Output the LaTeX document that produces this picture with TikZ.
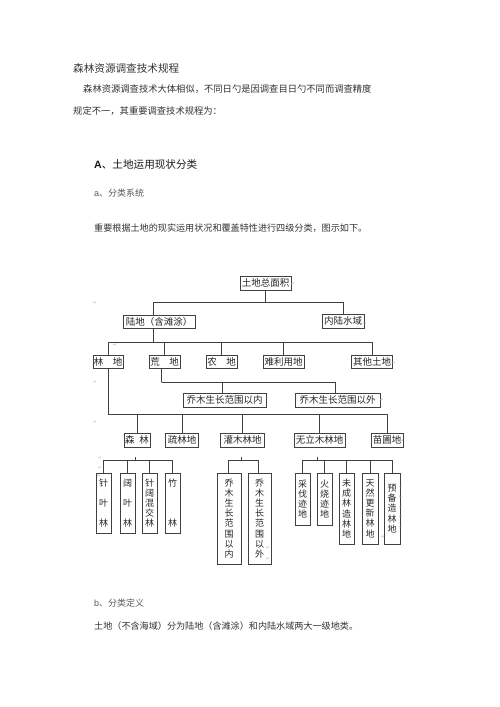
\documentclass[tikz,border=0pt]{standalone}
\usepackage{fontspec}
\setmainfont{Noto Sans CJK SC}
\newfontfamily\latinfont{Liberation Sans}
\newfontfamily\markfont{DejaVu Sans}
\usepackage{tikz}

\begin{document}
\begin{tikzpicture}[
    x=1pt, y=-1pt,
    % Define styles for consistency
    body_text/.style={anchor=west, inner sep=0pt, text=black!80, font=\fontsize{9.3}{11}\selectfont},
    class_box/.style={draw=black!75, line width=0.8pt, inner sep=0pt, minimum height=14pt, text=black!85, font=\fontsize{9.5}{11}\selectfont},
    vert_box/.style={class_box, minimum width=15pt, align=center, font=\fontsize{9}{10.2}\selectfont},
    tree_line/.style={draw=black!75, line width=0.8pt},
    para_mark/.style={inner sep=0pt, text=gray!60, font=\markfont\fontsize{4.5}{5}\selectfont}
]

    % page
    \fill[white] (0,0) rectangle (500,707);
    \useasboundingbox (0,0) rectangle (500,707);

    % ---------------------------------------------------------
    % 1. Text above the chart
    % ---------------------------------------------------------
    \node[body_text, font=\fontsize{10.6}{12}\selectfont] (title) at (73,68) {森林资源调查技术规程};
    \node[body_text] (par1) at (83,89) {森林资源调查技术大体相似，不同日勺是因调查目日勺不同而调查精度};
    \node[body_text] (par2) at (73,111) {规定不一，其重要调查技术规程为：};
    \node[body_text, text=black!90, font=\fontsize{10.6}{12}\selectfont] (headA) at (94,164) {{\latinfont\bfseries A}、土地运用现状分类};
    \node[body_text, text=black!65, font=\fontsize{9}{11}\selectfont] (heada) at (94,193) {{\latinfont a}、分类系统};
    \node[body_text, font=\fontsize{9.1}{11}\selectfont] (intro) at (94,228) {重要根据土地的现实运用状况和覆盖特性进行四级分类，图示如下。};

    % ---------------------------------------------------------
    % 2. The classification chart
    % ---------------------------------------------------------
    % --- levels 0 and 1 ---
    \node[class_box, minimum width=51pt] (root) at (265.5,283) {土地总面积};
    \node[class_box, minimum width=72pt, minimum height=13pt] (lu) at (159,321.5) {陆地（含滩涂）};
    \node[class_box, minimum width=42pt] (nl) at (343,321) {内陆水域};

    % --- level 2 ---
    \node[class_box, minimum width=30pt, minimum height=13pt] (ld) at (108,361.5) {林\hspace{1em}地};
    \node[class_box, minimum width=31pt, minimum height=13pt] (hd) at (164.5,361.5) {荒\hspace{1em}地};
    \node[class_box, minimum width=31pt, minimum height=13pt] (nd) at (221.5,361.5) {农\hspace{1em}地};
    \node[class_box, minimum width=41pt, minimum height=13pt] (nly) at (283.5,361.5) {难利用地};
    \node[class_box, minimum width=41pt, minimum height=13pt] (qt) at (372,361.5) {其他土地};

    \node[class_box, minimum width=83pt] (qn) at (224.5,400) {乔木生长范围以内};
    \node[class_box, minimum width=85pt] (qw) at (337.5,400) {乔木生长范围以外};

    % --- level 3 ---
    \node[class_box, minimum width=26pt] (sl) at (137,440) {森\hspace{0.5em}林};
    \node[class_box, minimum width=33pt] (sul) at (182,440) {疏林地};
    \node[class_box, minimum width=44pt] (gm) at (242.5,440) {灌木林地};
    \node[class_box, minimum width=51pt] (wl) at (319.5,440) {无立木林地};
    \node[class_box, minimum width=32pt] (mp) at (387,440) {苗圃地};

    % --- level 4 ---
    \node[vert_box, minimum height=60pt] (zy) at (103.5,503) {针\\[9.8pt]叶\\[9.8pt]林};
    \node[vert_box, minimum height=60pt] (ky) at (127.5,503) {阔\\[9.8pt]叶\\[9.8pt]林};
    \node[vert_box, minimum height=60pt] (zk) at (149.5,503) {针\\阔\\混\\交\\林};
    \node[vert_box, minimum height=60pt] (zl) at (172.5,503) {竹\\[30pt]林};

    \node[vert_box, minimum width=24pt, minimum height=91pt] (gn) at (229,518.5) {乔\\木\\生\\长\\范\\围\\以\\内};
    \node[vert_box, minimum width=23pt, minimum height=91pt] (gw) at (259.5,518.5) {乔\\木\\生\\长\\范\\围\\以\\外};

    \node[vert_box, minimum height=52pt] (cf) at (302.5,499) {采\\伐\\迹\\地};
    \node[vert_box, minimum height=52pt] (hs) at (324.5,499) {火\\烧\\迹\\地};
    \node[vert_box, minimum height=71pt] (wc) at (346.5,508.5) {未\\成\\林\\造\\林\\地};
    \node[vert_box, minimum width=16pt, minimum height=71pt] (tr) at (370,508.5) {天\\然\\更\\新\\林\\地};
    \node[vert_box, minimum width=16pt, minimum height=71pt] (yb) at (392,508.5) {预\\备\\造\\林\\地};

    % --- connectors ---
    \draw[tree_line] (root.south) -- ([yshift=-12pt]root.south) coordinate (j0);
    \draw[tree_line] ([xshift=-6pt]lu.north) |- (j0) -| (nl.north);

    \draw[tree_line] ([xshift=-6pt]lu.south) -- ([yshift=-14pt, xshift=-6pt]lu.south) coordinate (j1);
    \draw[tree_line] (ld.north) |- (j1) -| (qt.north);
    \foreach \n in {hd, nd, nly} {
        \draw[tree_line] (\n.north) -- (\n.north |- j1);
    }

    \draw[tree_line] ([xshift=-3pt]hd.south) -- ([yshift=-14pt, xshift=-3pt]hd.south) coordinate (j2);
    \draw[tree_line] ([xshift=-2pt]qn.north) |- (j2) -| ([xshift=-2pt]qw.north);

    \draw[tree_line] (ld.south) -- ([yshift=-46pt]ld.south) coordinate (j3);
    \draw[tree_line] (j3) -| (mp.north);
    \foreach \n in {sl, sul, gm, wl} {
        \draw[tree_line] (\n.north) -- (\n.north |- j3);
    }

    % short ticks above the fourth level (not joined to the boxes)
    \draw[tree_line] ([yshift=-10pt, xshift=-2pt]sl.south) -- ([yshift=-13pt, xshift=-2pt]sl.south) coordinate (j4);
    \draw[tree_line] (zy.north) |- (j4) -| (zl.north);
    \foreach \n in {ky, zk} {
        \draw[tree_line] (\n.north) -- (\n.north |- j4);
    }

    \draw[tree_line] ([yshift=-10pt, xshift=-1.5pt]gm.south) -- ([yshift=-13pt, xshift=-1.5pt]gm.south) coordinate (j5);
    \draw[tree_line] ([xshift=-1pt]gn.north) |- (j5) -| ([xshift=-1pt]gw.north);

    \draw[tree_line] ([yshift=-10pt, xshift=-2.5pt]wl.south) -- ([yshift=-13pt, xshift=-2.5pt]wl.south) coordinate (j6);
    \draw[tree_line] (cf.north) |- (j6) -| (yb.north);
    \foreach \n in {hs, wc, tr} {
        \draw[tree_line] (\n.north) -- (\n.north |- j6);
    }

    % paragraph marks left in the chart
    \foreach \px/\py [count=\i] in {95/303, 115/345, 95/382, 95/422, 293/284, 365/324, 394/363, 382/400, 402/441,
        100/458, 100/468, 99/476, 268/548, 268/559, 401/487, 401/497, 401/507, 401/517, 401/527, 383/537} {
        \node[para_mark] (pm\i) at (\px,\py) {↵};
    }

    % ---------------------------------------------------------
    % 3. Text below the chart
    % ---------------------------------------------------------
    \node[body_text, text=black!65, font=\fontsize{9}{11}\selectfont] (headb) at (94,603) {{\latinfont b}、分类定义};
    \node[body_text, font=\fontsize{9.1}{11}\selectfont] (defn) at (94,626) {土地（不含海域）分为陆地（含滩涂）和内陆水域两大一级地类。};
\end{tikzpicture}
\end{document}
